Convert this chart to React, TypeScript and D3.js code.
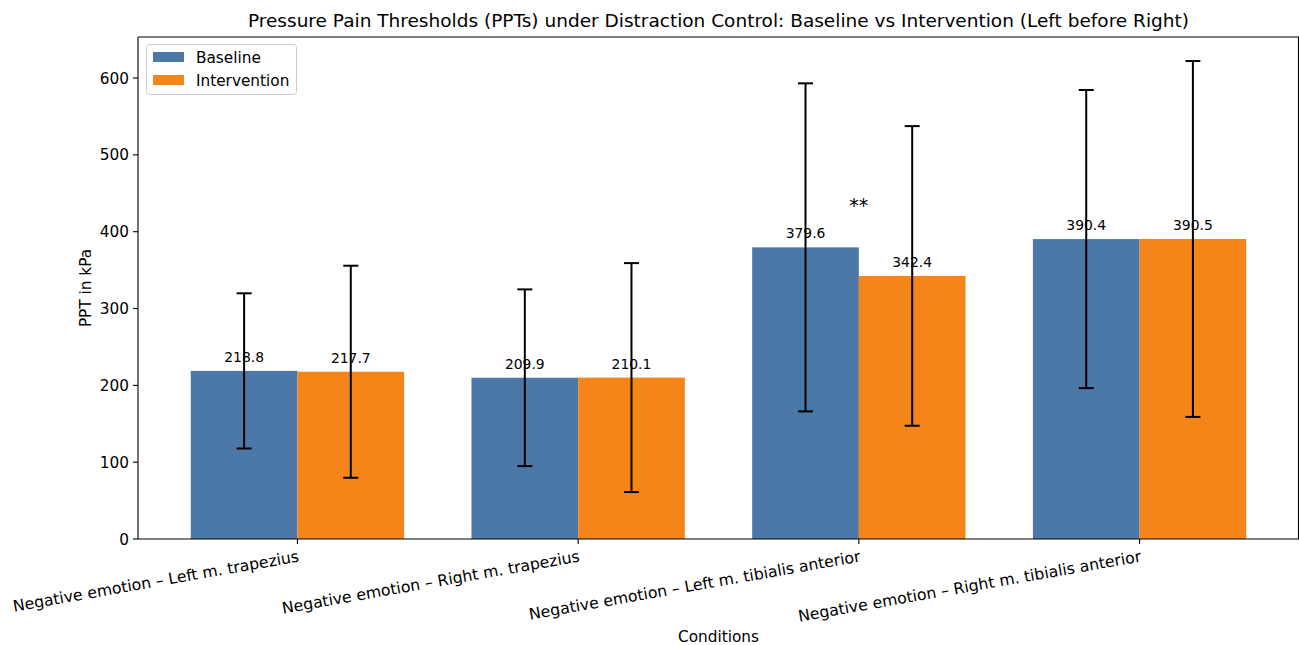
import React from "react";
import * as d3 from "d3";

const categories = [
  "Negative emotion – Left m. trapezius",
  "Negative emotion – Right m. trapezius",
  "Negative emotion – Left m. tibialis anterior",
  "Negative emotion – Right m. tibialis anterior",
];
const seriesNames = ["Baseline", "Intervention"];
const baselineMeans = [218.8, 209.9, 379.6, 390.4];
const interventionMeans = [217.7, 210.1, 342.4, 390.5];
const baselineSD = [101, 115, 213.5, 194];
const interventionSD = [138, 149, 195, 231.6];
const significance = ["", "", "**", ""];
const yTicks = [0, 100, 200, 300, 400, 500, 600];

const W = 1299;
const H = 645;
const margin = { left: 138, right: 0, top: 37, bottom: 106 };
const colors = ["#4C78A8", "#F58518"];
const FONT = "DejaVu Sans, sans-serif";
const FS = 15.3;

export default function App() {
  const plotW = W - margin.left - margin.right;
  const plotH = H - margin.top - margin.bottom;
  const barW = 0.38;
  const x = d3
    .scaleLinear()
    .domain([-barW - 0.188, categories.length - 1 + barW + 0.188])
    .range([margin.left, margin.left + plotW]);
  const y = d3
    .scaleLinear()
    .domain([0, 653.4])
    .range([margin.top + plotH, margin.top]);

  const series = [
    { name: seriesNames[0], means: baselineMeans, sd: baselineSD, off: -barW / 2 },
    { name: seriesNames[1], means: interventionMeans, sd: interventionSD, off: barW / 2 },
  ];
  const pxW = x(barW) - x(0);
  const y0 = y(0);

  return (
    <svg
      width={W}
      height={H}
      style={{ position: "absolute", left: 0, top: 0, background: "#fff" }}
      fontFamily={FONT}
    >
      <rect x={0} y={0} width={W} height={H} fill="#fff" />
      {/* bars */}
      {series.map((s, si) =>
        s.means.map((m, i) => (
          <rect
            key={`b${si}-${i}`}
            x={x(i + s.off) - pxW / 2}
            y={y(m)}
            width={pxW}
            height={y0 - y(m)}
            fill={colors[si]}
          />
        ))
      )}
      {/* error bars */}
      {series.map((s, si) =>
        s.means.map((m, i) => {
          const cx = x(i + s.off);
          const top = y(m + s.sd[i]);
          const bot = y(m - s.sd[i]);
          return (
            <g key={`e${si}-${i}`} stroke="#000" strokeWidth={2}>
              <line x1={cx} x2={cx} y1={top} y2={bot} />
              <line x1={cx - 7.5} x2={cx + 7.5} y1={top} y2={top} />
              <line x1={cx - 7.5} x2={cx + 7.5} y1={bot} y2={bot} />
            </g>
          );
        })
      )}
      {/* value labels */}
      {series.map((s, si) =>
        s.means.map((m, i) => (
          <text
            key={`v${si}-${i}`}
            x={x(i + s.off)}
            y={y(m) - 9}
            textAnchor="middle"
            fontSize={13.9}
            fill="#000"
          >
            {m.toFixed(1)}
          </text>
        ))
      )}
      {/* significance */}
      {significance.map((sig, i) =>
        sig ? (
          <text
            key={`s${i}`}
            x={x(i)}
            y={y(Math.max(baselineMeans[i], interventionMeans[i]) * 1.12)}
            textAnchor="middle"
            fontSize={19}
            fill="#000"
          >
            {sig}
          </text>
        ) : null
      )}
      {/* spines */}
      <g stroke="#000" strokeWidth={1.1} fill="none">
        <line x1={margin.left} x2={margin.left} y1={margin.top} y2={y0} />
        <line x1={margin.left} x2={W} y1={y0} y2={y0} />
        <line x1={margin.left} x2={W} y1={margin.top} y2={margin.top} />
        <line x1={W - 0.5} x2={W - 0.5} y1={margin.top} y2={y0} />
      </g>
      {/* y ticks */}
      {yTicks.map((t) => (
        <g key={`yt${t}`}>
          <line x1={margin.left - 5} x2={margin.left} y1={y(t)} y2={y(t)} stroke="#000" strokeWidth={1.1} />
          <text x={margin.left - 9} y={y(t)} dy="0.36em" textAnchor="end" fontSize={FS} fill="#000">
            {t}
          </text>
        </g>
      ))}
      {/* x ticks */}
      {categories.map((c, i) => (
        <g key={`xt${i}`}>
          <line x1={x(i)} x2={x(i)} y1={y0} y2={y0 + 5} stroke="#000" strokeWidth={1.1} />
          <text
            transform={`translate(${x(i)},${y0 + 10}) rotate(-10)`}
            textAnchor="end"
            dy="0.8em"
            fontSize={15.7}
            fill="#000"
          >
            {c}
          </text>
        </g>
      ))}
      {/* axis labels */}
      <text x={(margin.left + W) / 2} y={642} textAnchor="middle" fontSize={FS} fill="#000">
        Conditions
      </text>
      <text
        transform={`translate(91,${(margin.top + y0) / 2}) rotate(-90)`}
        textAnchor="middle"
        fontSize={FS}
        fill="#000"
      >
        PPT in kPa
      </text>
      {/* title */}
      <text x={(margin.left + W) / 2} y={27} textAnchor="middle" fontSize={18.5} fill="#000">
        Pressure Pain Thresholds (PPTs) under Distraction Control: Baseline vs Intervention (Left before Right)
      </text>
      {/* legend */}
      <g>
        <rect x={146.5} y={44.5} width={150} height={50} rx={3} fill="#fff" fillOpacity={0.8} stroke="#ccc" />
        {seriesNames.map((n, i) => (
          <g key={`lg${i}`}>
            <rect x={153} y={52 + i * 23} width={31} height={10} fill={colors[i]} />
            <text x={196} y={57 + i * 23} dy="0.36em" fontSize={FS} fill="#000">
              {n}
            </text>
          </g>
        ))}
      </g>
    </svg>
  );
}
